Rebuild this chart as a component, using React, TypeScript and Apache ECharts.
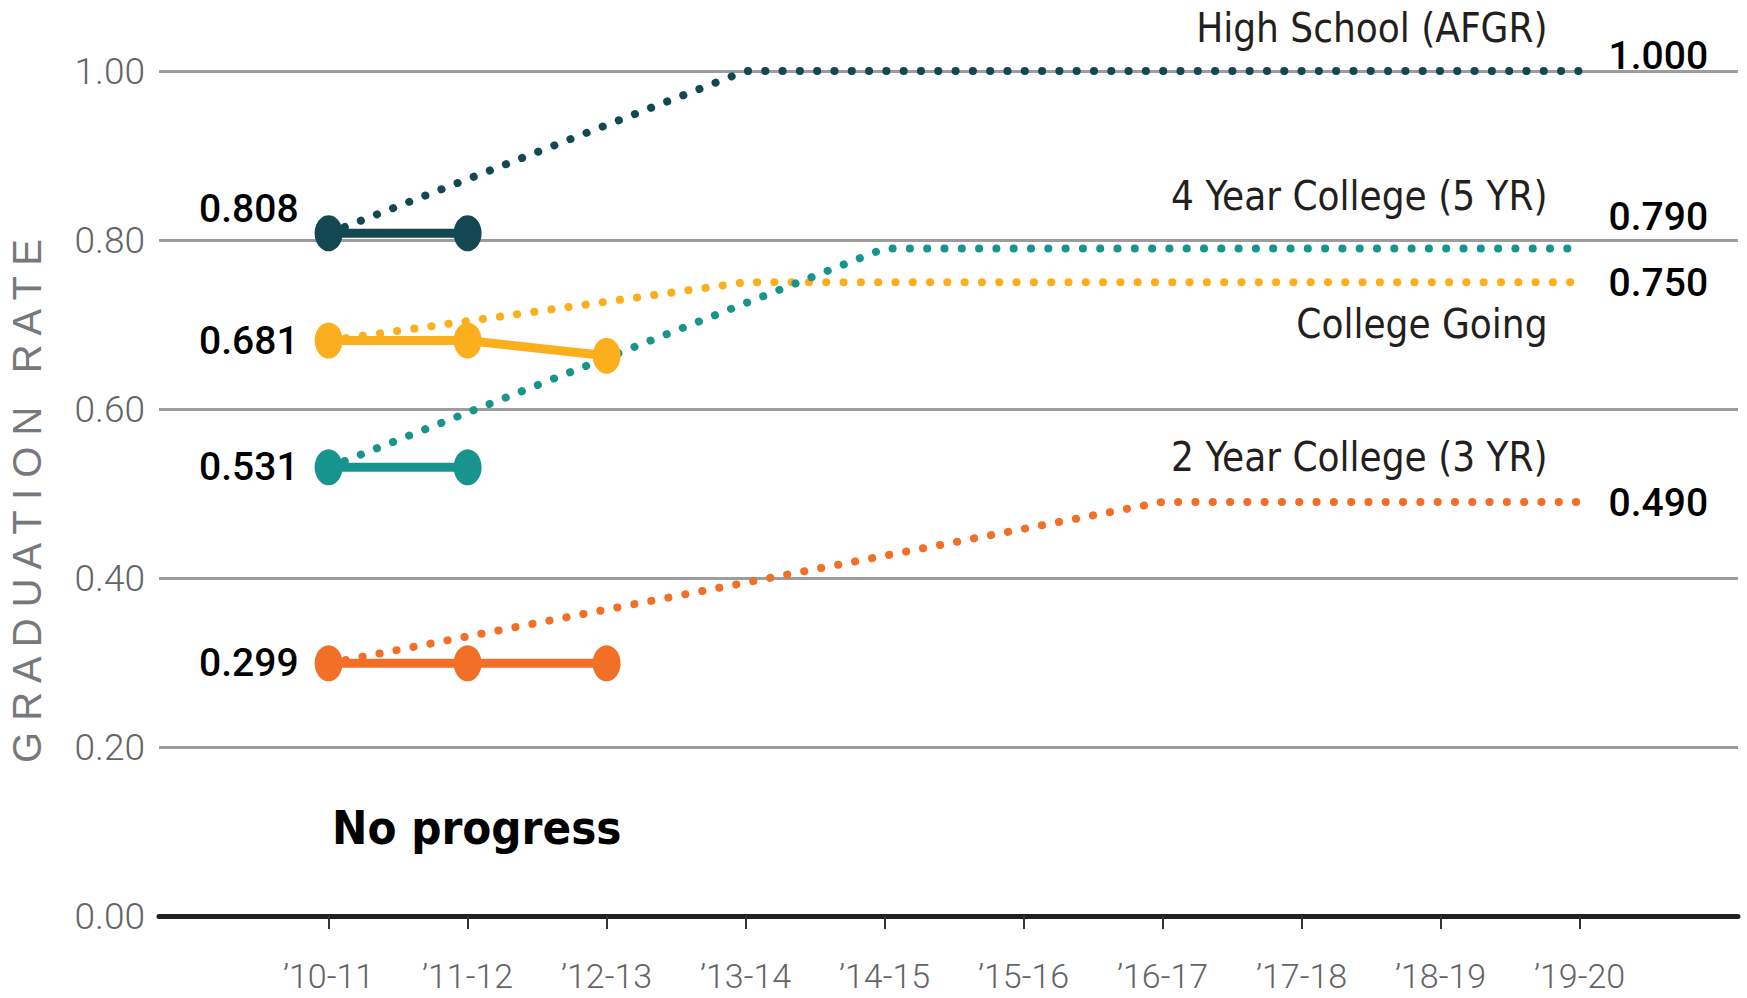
import React, { useEffect, useRef } from "react";
import * as echarts from "echarts";

const categories = ["’10-11", "’11-12", "’12-13", "’13-14", "’14-15", "’15-16", "’16-17", "’17-18", "’18-19", "’19-20"];
const yTicks = [0, 0.2, 0.4, 0.6, 0.8, 1.0];

const hsActual = [0.808, 0.808];
const hsTarget = [0.808, null, null, 1.0, null, null, null, null, null, 1.0];
const cgActual = [0.681, 0.681, 0.663];
const cgTarget = [0.681, null, null, 0.75, null, null, null, null, null, 0.75];
const c4Actual = [0.531, 0.531];
const c4Target = [0.531, null, null, null, 0.79, null, null, null, null, 0.79];
const c2Actual = [0.299, 0.299, 0.299];
const c2Target = [0.299, null, null, null, null, null, 0.49, null, null, 0.49];

const seriesNames = ["High School (AFGR)", "College Going", "4 Year College (5 YR)", "2 Year College (3 YR)"];
const colors = ["#134853", "#fcaf1d", "#18948e", "#f26f27"];

const COND = "'DejaVu Sans Condensed', 'DejaVu Sans', sans-serif";
const ROBOTO = "Roboto, 'Liberation Sans', sans-serif";

export default function App() {
  const ref = useRef<HTMLDivElement>(null);
  useEffect(() => {
    document.body.style.margin = "0";
    const chart = echarts.init(ref.current!, null, { renderer: "svg" });
    const toPairs = (arr: (number | null)[]) => arr.map((v, i) => [i, v]);

    const actuals = [hsActual, cgActual, c4Actual, c2Actual];
    const targets = [hsTarget, cgTarget, c4Target, c2Target];
    // label placement tweaks (layout only)
    const leftLabelOffset = [[0, -24], [0, 0], [0, 0], [0, 0]];
    const endLabelOffset = [[0, -15], [0, 1], [0, -31], [0, 1]];
    const nameOffset = [[0, -43], [0, 42], [0, -52], [0, -45]];

    const series: any[] = [];
    targets.forEach((t, k) => {
      const lastIdx = t.length - 1;
      series.push({
        type: "line",
        name: seriesNames[k] + " target",
        data: toPairs(t),
        connectNulls: true,
        showSymbol: false,
        symbol: "none",
        silent: true,
        z: 2,
        lineStyle: { color: colors[k], width: 8, type: [0.1, 17.2], cap: "round" },
        endLabel: {
          show: true,
          formatter: (p: any) => Number(p.value[1]).toFixed(3),
          distance: 29,
          offset: endLabelOffset[k],
          color: "#000",
          fontSize: 39,
          fontWeight: 500,
          fontFamily: ROBOTO,
        },
        markPoint: {
          silent: true,
          symbol: "circle",
          symbolSize: 0,
          itemStyle: { color: "transparent" },
          data: [{ coord: [lastIdx, t[lastIdx]] }],
          label: {
            show: true,
            position: "left",
            distance: 32,
            offset: nameOffset[k],
            formatter: seriesNames[k],
            color: "#231f20",
            fontSize: 40,
            fontFamily: COND,
          },
        },
      });
    });
    actuals.forEach((a, k) => {
      series.push({
        type: "line",
        name: seriesNames[k],
        data: a.map((v, i) =>
          i === 0
            ? {
                value: [i, v],
                label: {
                  show: true,
                  position: "left",
                  distance: 16,
                  offset: leftLabelOffset[k],
                  formatter: (p: any) => Number(p.value[1]).toFixed(3),
                  color: "#000",
                  fontSize: 39,
                  fontWeight: 500,
                  fontFamily: ROBOTO,
                },
              }
            : { value: [i, v] }
        ),
        symbol: "circle",
        symbolSize: [28, 36],
        silent: true,
        z: 3,
        itemStyle: { color: colors[k] },
        lineStyle: { color: colors[k], width: 9 },
      });
    });

    chart.setOption({
      animation: false,
      grid: { left: 159, right: 9, top: 71, bottom: 82, containLabel: false },
      xAxis: {
        type: "value",
        min: -1.22,
        max: 10.14,
        splitLine: { show: false },
        axisLine: { show: true, lineStyle: { color: "#231f20", width: 5 } },
        axisTick: {
          show: true,
          customValues: categories.map((_, i) => i),
          length: 13,
          lineStyle: { color: "#333", width: 2 },
        },
        axisLabel: {
          customValues: categories.map((_, i) => i),
          formatter: (v: number) => categories[Math.round(v)] ?? "",
          margin: 43,
          color: "#636466",
          fontSize: 34,
          fontWeight: 300,
          fontFamily: ROBOTO,
        },
      },
      yAxis: {
        type: "value",
        min: 0,
        max: 1,
        interval: 0.2,
        axisLine: { show: false },
        axisTick: { show: false },
        splitLine: { show: true, lineStyle: { color: "#9d9d9d", width: 3 } },
        axisLabel: {
          formatter: (v: number) => (yTicks.some((t) => Math.abs(t - v) < 1e-9) ? v.toFixed(2) : ""),
          margin: 14,
          color: "#636466",
          fontSize: 37,
          fontWeight: 300,
          fontFamily: ROBOTO,
        },
      },
      graphic: [
        {
          type: "text",
          x: 27,
          y: 501,
          rotation: Math.PI / 2,
          style: {
            text: "G R A D U A T I O N   R A T E",
            align: "center",
            verticalAlign: "middle",
            fill: "#77787b",
            font: "300 40px 'Liberation Sans', sans-serif",
          },
        },
        {
          type: "text",
          left: 332,
          top: 804,
          style: {
            text: "No progress",
            fill: "#000",
            font: "bold 47px " + COND,
          },
        },
      ],
      series,
    });
    return () => chart.dispose();
  }, []);
  return <div ref={ref} style={{ width: 1747, height: 998, overflow: "hidden" }} />;
}
